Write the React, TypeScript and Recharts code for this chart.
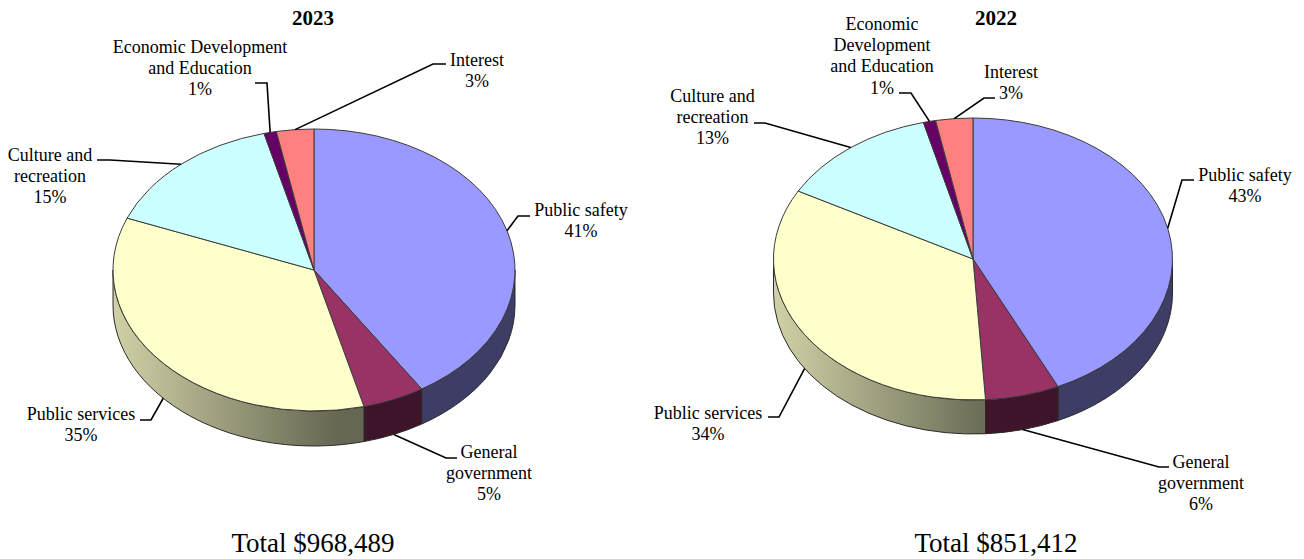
import { Pie, PieChart } from 'recharts';

// Expenses by function, percent of total
const categories = [
  'Public safety',
  'General government',
  'Public services',
  'Culture and recreation',
  'Economic Development and Education',
  'Interest',
];
const values2023 = [41, 5, 35, 15, 1, 3];
const values2022 = [43, 6, 34, 13, 1, 3];
const sliceColors = ['#9999ff', '#993366', '#ffffcc', '#ccffff', '#660066', '#ff8080'];

const years = ['2023', '2022'];
const totals = ['Total $968,489', 'Total $851,412'];

// Line breaks used in the slice captions
const captionLines2023 = [
  ['Public safety'],
  ['General', 'government'],
  ['Public services'],
  ['Culture and', 'recreation'],
  ['Economic Development', 'and Education'],
  ['Interest'],
];
const captionLines2022 = [
  ['Public safety'],
  ['General', 'government'],
  ['Public services'],
  ['Culture and', 'recreation'],
  ['Economic', 'Development', 'and Education'],
  ['Interest'],
];

// Caption anchor: text centre x, first line y, leader elbow x/y, leader end x
const captionLayout2023 = [
  { x: 581, y: 210, elbowX: 518, elbowY: 216, endX: 530 },
  { x: 489, y: 452, elbowX: 446, elbowY: 458, endX: 457 },
  { x: 81, y: 414, elbowX: 151, elbowY: 420, endX: 140 },
  { x: 50, y: 155, elbowX: 110, elbowY: 160, endX: 97 },
  { x: 200, y: 46.5, elbowX: 267, elbowY: 83, endX: 255 },
  { x: 477, y: 60, elbowX: 433, elbowY: 64, endX: 446 },
];
const captionLayout2022 = [
  { x: 1245, y: 175, elbowX: 1182, elbowY: 180, endX: 1194 },
  { x: 1201, y: 462, elbowX: 1159, elbowY: 467, endX: 1169 },
  { x: 708, y: 413, elbowX: 779, elbowY: 417, endX: 768 },
  { x: 712.5, y: 96, elbowX: 765, elbowY: 123, endX: 754 },
  { x: 882, y: 24, elbowX: 911, elbowY: 93, endX: 899 },
  { x: 1011, y: 72, elbowX: 984, elbowY: 98, endX: 995 },
];

const WIDTH = 1304;
const HEIGHT = 559;
const SERIF = '"Liberation Serif", "Times New Roman", serif';
const LINE_HEIGHT = 21.2;

const RAD = Math.PI / 180;

const pointAt = (cx: number, cy: number, rx: number, ry: number, angle: number) => ({
  x: cx + rx * Math.cos(angle * RAD),
  y: cy - ry * Math.sin(angle * RAD),
});

const shade = (hex: string, factor: number) => {
  const n = parseInt(hex.slice(1), 16);
  const part = (v: number) => Math.round(v * factor);
  return `rgb(${part((n >> 16) & 255)},${part((n >> 8) & 255)},${part(n & 255)})`;
};

// Top face of a slice, the circle flattened to an ellipse
const topFace = (tilt: number) => (props: any) => {
  const { cx, cy, outerRadius, startAngle, endAngle, fill } = props;
  const ry = outerRadius * tilt;
  const a = pointAt(cx, cy, outerRadius, ry, startAngle);
  const b = pointAt(cx, cy, outerRadius, ry, endAngle);
  const large = startAngle - endAngle > 180 ? 1 : 0;
  return (
    <path
      d={`M${cx},${cy}L${a.x},${a.y}A${outerRadius},${ry} 0 ${large} 1 ${b.x},${b.y}Z`}
      fill={fill}
      stroke="#3c3c3c"
      strokeWidth={1}
      strokeLinejoin="round"
    />
  );
};

// Side wall of a slice, only the part on the front half of the disc shows
const sideWall = (tilt: number, depth: number, id: string) => (props: any) => {
  const { cx, cy, outerRadius, startAngle, endAngle, fill, index } = props;
  const from = Math.min(startAngle, 0);
  const to = Math.max(endAngle, -180);
  if (from <= to) return <g />;
  const ry = outerRadius * tilt;
  const a = pointAt(cx, cy, outerRadius, ry, from);
  const b = pointAt(cx, cy, outerRadius, ry, to);
  const gradId = `${id}-wall-${index}`;
  return (
    <g>
      <defs>
        <linearGradient
          id={gradId}
          gradientUnits="userSpaceOnUse"
          x1={cx - outerRadius}
          x2={cx + outerRadius}
          y1={0}
          y2={0}
        >
          <stop offset="0" stopColor={shade(fill, 0.82)} />
          <stop offset="0.56" stopColor={shade(fill, 0.4)} />
          <stop offset="1" stopColor={shade(fill, 0.4)} />
        </linearGradient>
      </defs>
      <path
        d={`M${a.x},${a.y}A${outerRadius},${ry} 0 0 1 ${b.x},${b.y}L${b.x},${b.y + depth}A${outerRadius},${ry} 0 0 0 ${a.x},${a.y + depth}Z`}
        fill={`url(#${gradId})`}
        stroke="#2a2a2a"
        strokeWidth={1}
        strokeLinejoin="round"
      />
    </g>
  );
};

// Caption and leader line for a slice; leaders on the front half start at the wall's lower edge
const sliceCaption =
  (tilt: number, depth: number, lines: string[][], layout: typeof captionLayout2023) => (props: any) => {
    const { cx, cy, outerRadius, midAngle, index, value } = props;
    const spot = layout[index];
    const p = pointAt(cx, cy, outerRadius, outerRadius * tilt, midAngle);
    const startY = Math.sin(midAngle * RAD) < 0 ? p.y + depth : p.y;
    const rows = [...lines[index], `${value}%`];
    return (
      <g>
        <polyline
          points={`${p.x},${startY} ${spot.elbowX},${spot.elbowY} ${spot.endX},${spot.elbowY}`}
          fill="none"
          stroke="#000"
          strokeWidth={1.6}
        />
        {rows.map((row, i) => (
          <text
            key={row}
            x={spot.x}
            y={spot.y + i * LINE_HEIGHT}
            textAnchor="middle"
            dominantBaseline="central"
            fontFamily={SERIF}
            fontSize={18}
            fill="#000"
          >
            {row}
          </text>
        ))}
      </g>
    );
  };

const toRows = (values: number[]) =>
  categories.map((name, i) => ({ name, value: values[i], fill: sliceColors[i] }));

const rows2023 = toRows(values2023);
const rows2022 = toRows(values2022);

export default function App() {
  const tilt2023 = 141 / 201;
  const tilt2022 = 141 / 199.5;
  return (
    <div style={{ position: 'absolute', left: 0, top: 0 }}>
      <PieChart width={WIDTH} height={HEIGHT} margin={{ top: 0, right: 0, bottom: 0, left: 0 }}>
        {/* 2023 disc */}
        <Pie
          data={rows2023}
          dataKey="value"
          cx={314}
          cy={270}
          outerRadius={201}
          startAngle={90}
          endAngle={-270}
          isAnimationActive={false}
          shape={sideWall(tilt2023, 35, 'y2023')}
        />
        <Pie
          data={rows2023}
          dataKey="value"
          cx={314}
          cy={270}
          outerRadius={201}
          startAngle={90}
          endAngle={-270}
          isAnimationActive={false}
          shape={topFace(tilt2023)}
          label={sliceCaption(tilt2023, 35, captionLines2023, captionLayout2023)}
          labelLine={false}
        />
        {/* 2022 disc */}
        <Pie
          data={rows2022}
          dataKey="value"
          cx={973}
          cy={259}
          outerRadius={199.5}
          startAngle={90}
          endAngle={-270}
          isAnimationActive={false}
          shape={sideWall(tilt2022, 34, 'y2022')}
        />
        <Pie
          data={rows2022}
          dataKey="value"
          cx={973}
          cy={259}
          outerRadius={199.5}
          startAngle={90}
          endAngle={-270}
          isAnimationActive={false}
          shape={topFace(tilt2022)}
          label={sliceCaption(tilt2022, 34, captionLines2022, captionLayout2022)}
          labelLine={false}
        />
        <text x={313} y={18} textAnchor="middle" dominantBaseline="central" fontFamily={SERIF} fontWeight="bold" fontSize={21}>
          {years[0]}
        </text>
        <text x={996} y={18} textAnchor="middle" dominantBaseline="central" fontFamily={SERIF} fontWeight="bold" fontSize={21}>
          {years[1]}
        </text>
        <text x={313} y={543} textAnchor="middle" dominantBaseline="central" fontFamily={SERIF} fontSize={27}>
          {totals[0]}
        </text>
        <text x={996} y={543} textAnchor="middle" dominantBaseline="central" fontFamily={SERIF} fontSize={27}>
          {totals[1]}
        </text>
      </PieChart>
    </div>
  );
}
